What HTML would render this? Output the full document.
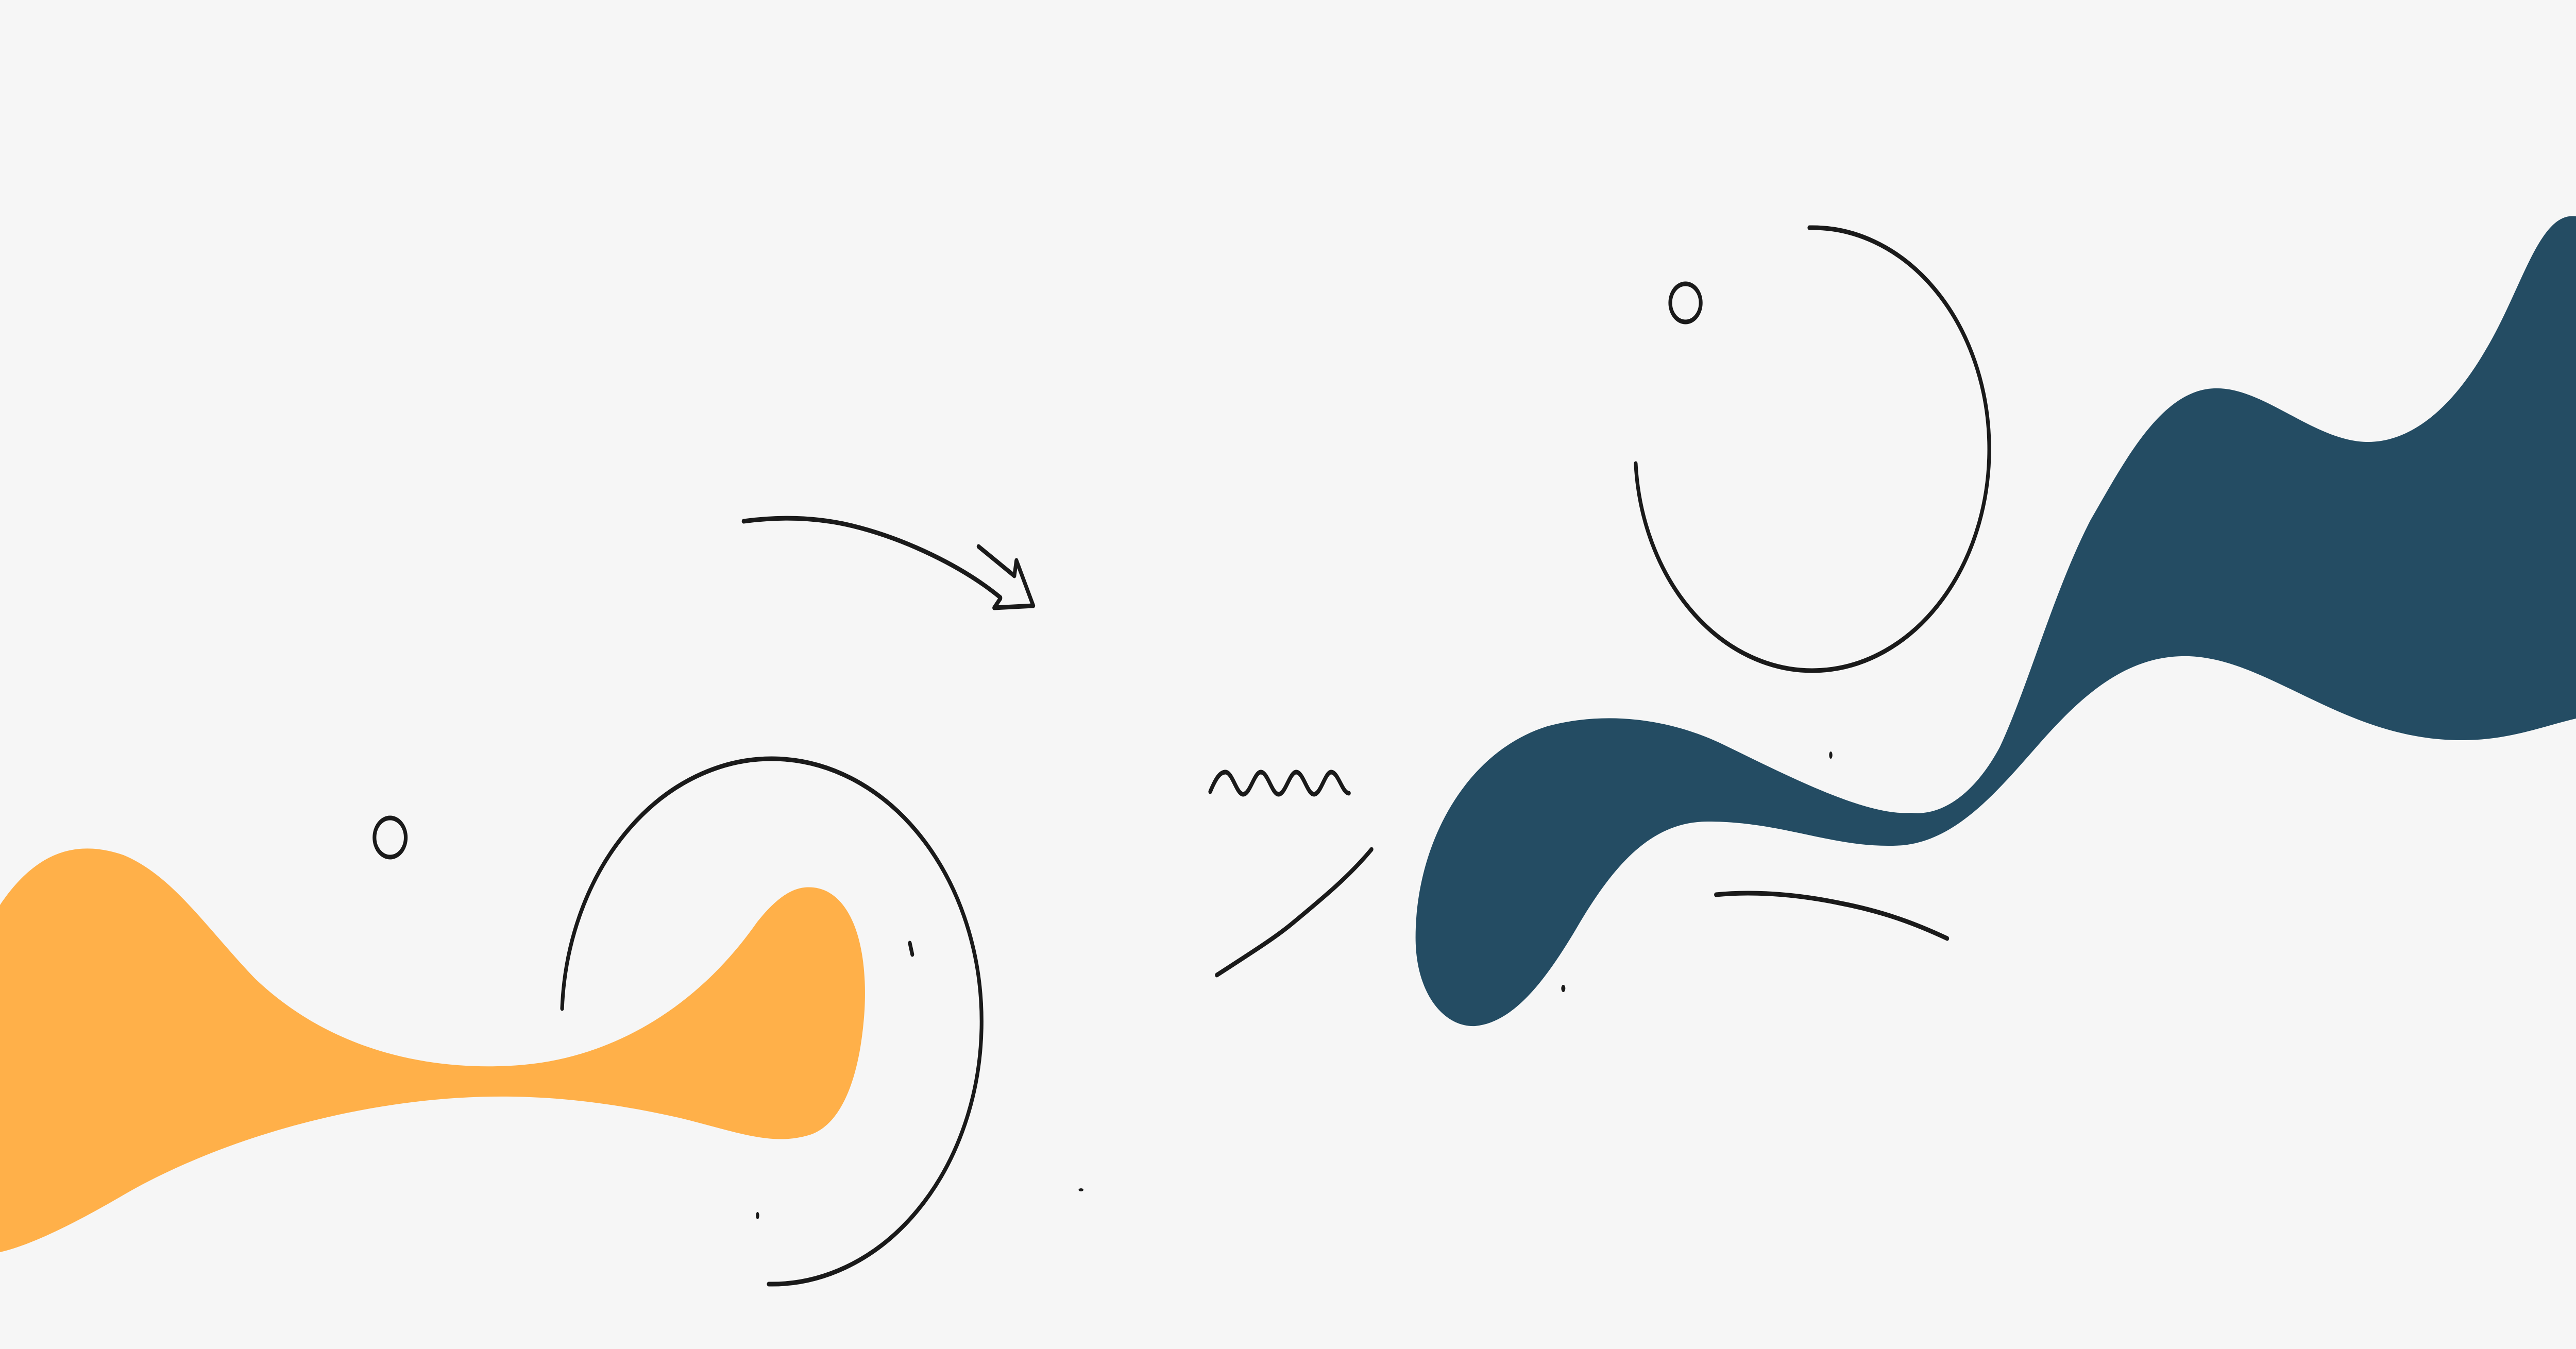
<!DOCTYPE html>
<html>
<head>
<meta charset="utf-8">
<style>
html,body{margin:0;padding:0;background:#f6f6f6;width:100%;height:100%;overflow:hidden;}
svg{display:block;position:absolute;left:0;top:0;width:100vw;height:100vh;}
</style>
</head>
<body>
<svg viewBox="0 0 6260 2619" preserveAspectRatio="none" xmlns="http://www.w3.org/2000/svg">
  <rect x="0" y="0" width="6260" height="2619" fill="#f6f6f6"/>

  <path fill="#ffb049"
    d="M0,1757 C90,1650 190,1630 300,1660 C420,1700 500,1800 620,1900 C830,2060 1100,2080 1275,2067 C1500,2050 1700,1950 1840,1790 C1900,1730 1940,1720 1977,1723 C2060,1730 2110,1820 2101,1960 C2090,2100 2040,2190 1960,2205 C1870,2225 1780,2195 1650,2170 C1400,2125 1200,2120 1000,2140 C700,2170 450,2250 300,2320 C150,2390 60,2420 0,2431 Z"/>

  <path fill="#244c63"
    d="M6260,420 C6170,410 6130,560 6040,680 C5960,790 5860,860 5750,858 C5620,855 5500,750 5380,754 C5250,758 5160,900 5080,1010 C4990,1150 4930,1330 4860,1450 C4800,1540 4720,1585 4644,1578 C4530,1585 4330,1500 4176,1441 C4050,1395 3900,1380 3760,1410 C3560,1460 3440,1640 3440,1820 C3440,1930 3510,1995 3585,1992 C3680,1985 3760,1900 3840,1790 C3930,1670 4020,1595 4150,1595 C4340,1595 4460,1650 4625,1641 C4760,1630 4860,1530 4960,1440 C5060,1350 5170,1270 5320,1274 C5520,1280 5700,1440 5990,1437 C6100,1436 6180,1410 6260,1395 Z"/>

  <g fill="none" stroke="#1a1a1a" stroke-width="9" stroke-linecap="round" stroke-linejoin="round">
    <path d="M1366,1958 A510,510 0 1 1 1868,2493"/>
    <path d="M4397,442 A430,430 0 1 1 3975,900"/>
    <circle cx="948" cy="1626" r="38"/>
    <circle cx="4096" cy="588" r="37"/>
    <path d="M1807,1012 C1900,1002 1990,1005 2072,1021 C2200,1046 2340,1100 2431,1160"/>
    <path d="M2378,1061 L2465,1118 L2470,1088 L2511,1176 L2416,1180 L2431,1162"/>
    <path d="M2941,1537 C2955,1510 2965,1499 2978,1499 C2995,1499 3005,1542 3021,1542 C3038,1542 3048,1499 3064,1499 C3081,1499 3091,1542 3107,1542 C3124,1542 3134,1499 3150,1499 C3167,1499 3177,1542 3193,1542 C3210,1542 3220,1499 3235,1499 C3252,1499 3262,1540 3278,1540"/>
    <path d="M2957,1893 C3040,1850 3100,1820 3143,1791 C3220,1740 3280,1700 3333,1649"/>
    <path d="M4170,1737 C4254,1730 4360,1735 4469,1753 C4580,1770 4660,1795 4732,1822"/>
    <path d="M2211,1831 L2217,1853"/>
  </g>
  <g fill="#1a1a1a">
    <ellipse cx="1841" cy="2360" rx="4" ry="7"/>
    <ellipse cx="4449" cy="1466" rx="4" ry="7"/>
    <ellipse cx="3799" cy="1919" rx="5" ry="7"/>
    <ellipse cx="2627" cy="2310" rx="6" ry="3"/>
  </g>
</svg>
</body>
</html>
